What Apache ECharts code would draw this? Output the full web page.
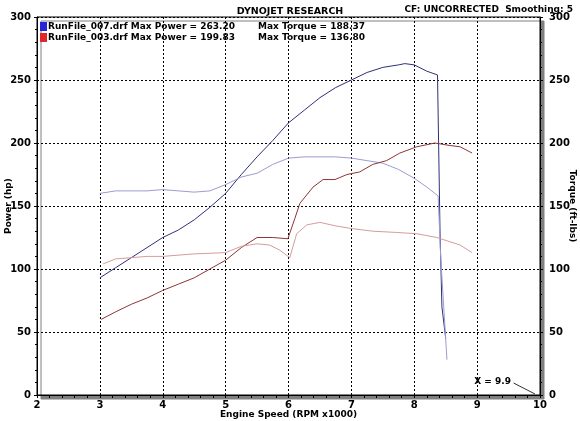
<!DOCTYPE html>
<html>
<head>
<meta charset="utf-8">
<script src="https://cdn.jsdelivr.net/npm/echarts@6/dist/echarts.min.js"></script>
<style>
  html, body { margin: 0; padding: 0; background: #fff; }
  #chart { width: 580px; height: 421px; }
</style>
</head>
<body>
<div id="chart"></div>
<script>
// RunFile_007 power (navy) and torque (lavender)
const power007X = [3.0, 3.25, 3.5, 3.75, 4.0, 4.25, 4.5, 4.75, 5.0, 5.25, 5.5, 5.75, 6.0, 6.25, 6.5, 6.75, 7.0, 7.25, 7.5, 7.75, 7.85, 8.0, 8.2, 8.37, 8.41, 8.44, 8.5];
const power007Y = [93, 101, 109, 117, 125, 131, 139, 149, 160, 175, 189, 202, 216, 226, 236, 244, 250, 256, 260, 262, 263, 262, 257, 254, 130, 70, 45];
const torque007X = [3.0, 3.25, 3.5, 3.75, 4.0, 4.25, 4.5, 4.75, 5.0, 5.25, 5.5, 5.75, 6.0, 6.25, 6.5, 6.75, 7.0, 7.25, 7.5, 7.75, 8.0, 8.2, 8.38, 8.42, 8.52];
const torque007Y = [160, 162, 162, 162, 163, 162, 161, 162, 167, 173, 176, 183, 188, 189, 189, 189, 188, 186, 184, 179, 172, 165, 158, 110, 28];

// RunFile_003 power (dark red) and torque (pink)
const power003X = [3.02, 3.25, 3.5, 3.75, 4.0, 4.25, 4.5, 4.75, 5.0, 5.25, 5.5, 5.75, 5.99, 6.1, 6.18, 6.39, 6.55, 6.74, 6.93, 7.13, 7.34, 7.56, 7.77, 8.04, 8.33, 8.57, 8.73, 8.92];
const power003Y = [60, 66, 72, 77, 83, 88, 93, 100, 107, 117, 125, 125, 124, 140, 152, 165, 171, 171, 175, 177, 183, 186, 192, 197, 200, 198, 197, 192];
const torque003X = [3.05, 3.25, 3.5, 3.75, 4.0, 4.5, 5.0, 5.25, 5.5, 5.7, 5.86, 6.02, 6.13, 6.29, 6.5, 6.77, 7.02, 7.34, 7.72, 8.04, 8.36, 8.73, 8.92];
const torque003Y = [104, 108, 109, 110, 110, 112, 113, 118, 120, 119, 115, 109, 128, 135, 137, 134, 132, 130, 129, 128, 125, 119, 113];

const runNames = ["RunFile_007.drf", "RunFile_003.drf"];
const maxPower = ["263.20", "199.83"];
const maxTorque = ["188.37", "136.80"];
const markerX = 9.9;

const zip = (xs, ys) => xs.map((x, i) => [x, ys[i]]);
const font = "DejaVu Sans";

const chart = echarts.init(document.getElementById("chart"));

const line = (name, data, color) => ({
  name,
  type: "line",
  data,
  showSymbol: false,
  symbol: "none",
  lineStyle: { color, width: 1 },
  itemStyle: { color },
  animation: false,
});

const series = [
  line(runNames[0], zip(power007X, power007Y), "#30307a"),
  line(runNames[0] + " torque", zip(torque007X, torque007Y), "#9c9cd2"),
  line(runNames[1], zip(power003X, power003Y), "#8c3636"),
  line(runNames[1] + " torque", zip(torque003X, torque003Y), "#d69c9c"),
];

// little pointer for the cursor readout
series[0].markLine = {
  silent: true,
  symbol: ["none", "none"],
  animation: false,
  lineStyle: { color: "#333", type: "solid", width: 1 },
  label: {
    show: true,
    position: "start",
    distance: 3,
    formatter: "X = " + markerX,
    fontFamily: font,
    fontWeight: "bold",
    fontSize: 9,
    color: "#000",
  },
  data: [[{ coord: [9.58, 9.5] }, { coord: [markerX + 0.02, 0.8] }]],
};

const axisLabel = { fontFamily: font, fontWeight: "bold", fontSize: 10, color: "#000" };
const axisName = { fontFamily: font, fontWeight: "bold", fontSize: 9, color: "#000" };
const dashed = { show: true, lineStyle: { color: "#000", type: [2, 2], width: 1 } };

const yAxis = (pos, name, rotate, gap) => ({
  type: "value",
  position: pos,
  min: 0,
  max: 300,
  interval: 50,
  name,
  nameLocation: "middle",
  nameRotate: rotate,
  nameGap: gap,
  nameMoveOverlap: false,
  nameTextStyle: axisName,
  axisLine: { show: true, lineStyle: { color: "#000" } },
  axisTick: { show: true, length: 3, lineStyle: { color: "#000" } },
  minorTick: { show: true, splitNumber: 5, length: 2, lineStyle: { color: "#000" } },
  axisLabel: Object.assign({ margin: pos === "right" ? 9 : 6 }, axisLabel),
  splitLine: pos === "left" ? dashed : { show: false },
});

chart.setOption({
  backgroundColor: "#fff",
  animation: false,
  title: [
    {
      text: "DYNOJET RESEARCH",
      left: "center",
      top: 2,
      textStyle: { fontFamily: font, fontWeight: "bold", fontSize: 9.5, color: "#000" },
    },
    {
      text: "CF: UNCORRECTED  Smoothing: 5",
      right: 2,
      top: 0,
      textStyle: { fontFamily: font, fontWeight: "bold", fontSize: 9, color: "#000" },
    },
  ],
  legend: {
    data: [
      { name: runNames[0], itemStyle: { color: "#2626d8" } },
      { name: runNames[1], itemStyle: { color: "#e02828" } },
    ],
    orient: "vertical",
    left: 35,
    top: 17,
    icon: "rect",
    itemWidth: 7,
    itemHeight: 9,
    itemGap: 2,
    selectedMode: false,
    formatter: (name) => {
      const i = runNames.indexOf(name);
      return "{a|" + name + " Max Power = " + maxPower[i] + "}{b|Max Torque = " + maxTorque[i] + "}";
    },
    textStyle: {
      padding: [0, 0, 0, -4],
      rich: {
        a: { fontFamily: font, fontWeight: "bold", fontSize: 9, color: "#000", width: 210 },
        b: { fontFamily: font, fontWeight: "bold", fontSize: 9, color: "#000" },
      },
    },
  },
  grid: {
    show: true,
    left: 37,
    right: 40,
    top: 17,
    bottom: 26,
    outerBoundsMode: "none",
    containLabel: false,
    backgroundColor: "#fff",
    borderColor: "#000",
    borderWidth: 1,
    shadowColor: "#808080",
    shadowBlur: 0,
    shadowOffsetX: 4,
    shadowOffsetY: 4,
  },
  xAxis: {
    type: "value",
    min: 2,
    max: 10,
    interval: 1,
    name: "Engine Speed (RPM x1000)",
    nameLocation: "middle",
    nameGap: 15,
    nameMoveOverlap: false,
    nameTextStyle: axisName,
    axisLine: { show: true, onZero: false, lineStyle: { color: "#000" } },
    axisTick: { show: true, length: 3, lineStyle: { color: "#000" } },
    minorTick: { show: true, splitNumber: 5, length: 3, lineStyle: { color: "#000" } },
    axisLabel: Object.assign({ margin: 5 }, axisLabel),
    splitLine: dashed,
  },
  yAxis: [yAxis("left", "Power (hp)", 90, 24), yAxis("right", "Torque (ft-lbs)", -90, 28)],
  series,
});
</script>
</body>
</html>
